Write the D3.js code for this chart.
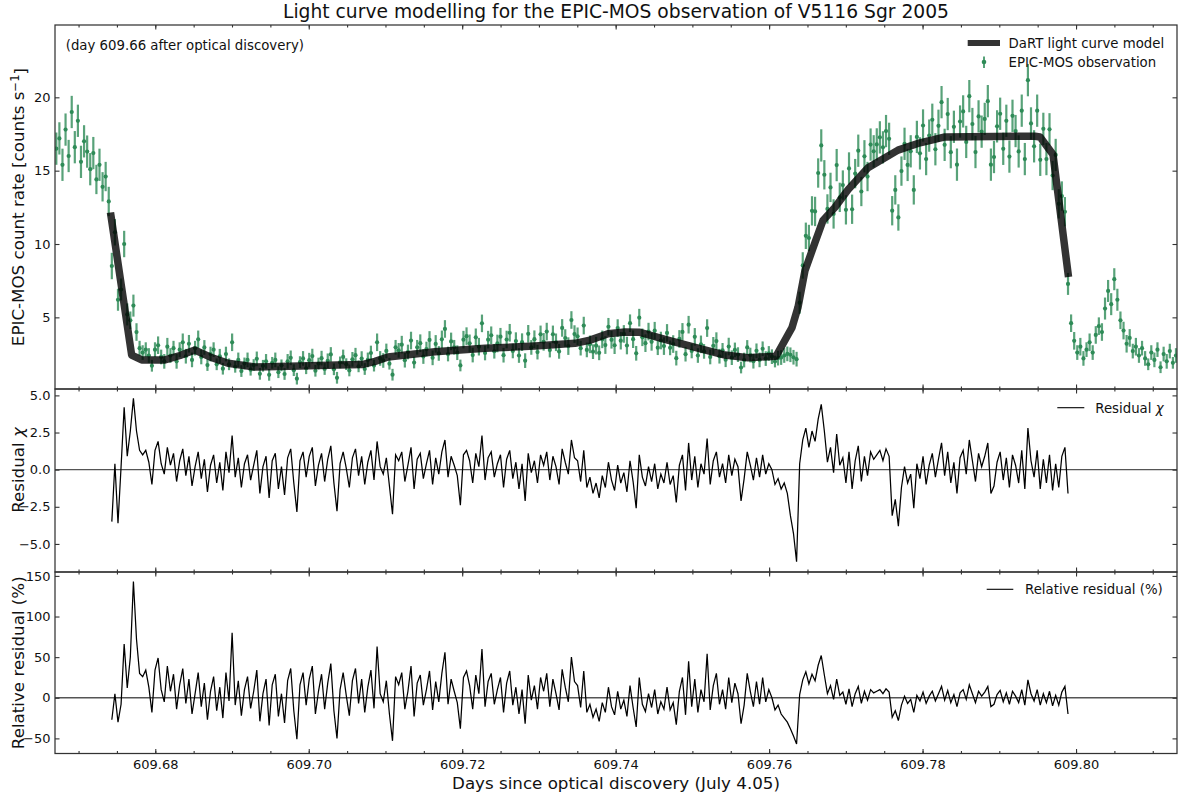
<!DOCTYPE html>
<html>
<head>
<meta charset="utf-8">
<script src="https://cdn.jsdelivr.net/npm/d3@7"></script>
<style>
  body { margin: 0; background: #fff; }
  svg { display: block; font-family: "DejaVu Sans", sans-serif; }
</style>
</head>
<body>
<svg id="chart" width="1182" height="798"></svg>
<script>
// ---- EPIC-MOS light curve (binned) ----
const binStart = 609.6671;   // centre of the first bin, days since optical discovery
const binWidth = 0.000402;   // bin width, days

// count rate per bin [counts/s]
const obsRate = [
  16.5,17.2,15.4,17.8,16.0,19.0,16.6,18.4,15.6,17.0,16.3,15.1,16.2,14.4,15.4,13.9,14.6,12.9,
  8.5,10.8,6.2,6.9,10.0,5.2,4.8,5.8,4.0,2.9,
  2.6,2.8,2.4,1.7,2.8,3.1,2.3,2.0,3.0,2.4,
  2.9,2.0,2.8,3.3,2.35,3.2,2.1,2.9,3.5,2.3,
  2.95,1.75,2.5,2.8,1.8,2.35,1.5,2.5,1.8,3.3,
  1.63,2.1,1.34,1.86,2.1,1.43,1.75,2.17,1.15,1.7,
  2.0,1.08,1.9,2.1,1.26,1.73,1.14,2.0,2.24,1.4,
  0.82,1.95,2.2,1.53,2.08,2.36,1.36,1.85,2.22,1.48,
  2.04,2.47,1.46,0.88,1.93,2.3,1.81,1.38,2.14,2.42,
  1.66,2.19,1.48,2.1,2.57,1.71,3.3,2.2,2.06,2.71,
  1.84,1.09,2.96,2.75,3.14,2.08,2.64,3.42,1.92,2.96,
  3.24,2.33,2.84,3.46,2.24,3.19,2.54,3.5,4.21,2.5,
  3.36,2.96,2.59,1.72,3.48,3.72,3.23,2.43,3.64,3.0,
  4.59,2.57,3.48,3.78,2.69,3.22,3.68,2.42,3.49,3.95,
  2.71,3.38,2.4,3.31,2.05,3.88,2.95,3.51,2.63,3.84,
  3.33,4.03,2.77,3.84,3.3,2.68,4.28,3.59,3.04,4.82,
  3.86,3.71,2.9,4.44,2.78,3.16,2.66,3.07,2.58,3.5,
  3.11,4.36,3.47,3.1,4.27,3.41,3.87,3.08,4.6,3.51,
  2.55,4.98,3.64,3.24,4.03,3.33,4.09,2.93,3.42,3.04,
  3.94,2.92,3.18,2.22,3.53,4.01,2.49,4.5,2.71,3.67,
  2.4,3.16,2.68,4.27,2.3,3.06,3.38,2.35,2.75,2.11,
  3.01,2.25,2.78,2.46,1.58,2.09,2.95,2.43,2.01,2.72,
  2.1,2.86,2.19,2.54,2.32,1.99,2.22,2.26,2.4,2.51,
  2.45,2.28,2.15,6.0,8.54,10.56,10.41,12.26,12.22,14.84,
  16.72,14.72,12.39,13.86,12.05,15.38,13.18,14.02,12.33,15.15,
  12.37,14.8,16.36,13.58,15.98,14.6,16.78,16.32,16.79,17.27,
  16.59,17.7,17.17,12.27,13.69,11.81,14.97,16.83,15.39,16.32,
  13.69,17.3,16.18,18.08,15.79,17.39,18.47,16.46,18.06,19.67,
  16.76,18.86,16.26,17.99,15.41,18.35,19.04,16.96,20.08,18.18,
  16.27,18.7,17.66,18.53,19.74,15.41,15.93,18.02,18.88,16.49,
  18.4,15.96,18.74,17.7,16.31,19.09,15.79,21.17,18.22,16.66,
  19.09,15.74,17.85,15.79,17.82,14.67,16.07,12.74,13.27,12.2,
  7.28,4.6,3.4,2.6,3.0,2.2,2.8,3.3,2.6,3.8,
  4.4,4.0,5.6,6.8,5.9,7.6,6.2,4.8,4.1,3.2,
  3.6,2.7,3.0,2.4,2.9,2.2,1.8,2.6,2.1,2.8,
  1.6,2.5,2.0,2.7,1.9,2.4
];

// 1-sigma error per bin [counts/s]
const obsError = [
  1.1,1.1,1.1,1.1,1.1,1.1,1.1,1.1,1.1,1.1,1.1,1.1,1.1,1.0,1.1,1.0,1.0,1.0,
  0.9,0.9,0.75,0.75,0.9,0.75,0.6,0.75,0.6,0.5,
  0.5,0.5,0.5,0.4,0.5,0.6,0.5,0.5,0.6,0.5,
  0.5,0.5,0.5,0.6,0.5,0.6,0.5,0.5,0.6,0.5,
  0.5,0.4,0.5,0.5,0.4,0.5,0.4,0.5,0.4,0.6,
  0.4,0.5,0.4,0.4,0.5,0.4,0.4,0.5,0.4,0.4,
  0.5,0.4,0.4,0.5,0.4,0.4,0.4,0.5,0.5,0.4,
  0.4,0.4,0.5,0.4,0.5,0.5,0.4,0.4,0.5,0.4,
  0.5,0.5,0.4,0.4,0.4,0.5,0.4,0.4,0.5,0.5,
  0.4,0.5,0.4,0.5,0.5,0.4,0.6,0.5,0.5,0.5,
  0.4,0.4,0.5,0.5,0.6,0.5,0.5,0.6,0.4,0.5,
  0.6,0.5,0.5,0.6,0.5,0.6,0.5,0.6,0.6,0.5,
  0.6,0.5,0.5,0.4,0.6,0.6,0.6,0.5,0.6,0.6,
  0.6,0.5,0.6,0.6,0.5,0.6,0.6,0.5,0.6,0.6,
  0.5,0.6,0.5,0.6,0.5,0.6,0.5,0.6,0.5,0.6,
  0.6,0.6,0.5,0.6,0.6,0.5,0.6,0.6,0.6,0.6,
  0.6,0.6,0.5,0.6,0.5,0.6,0.5,0.6,0.5,0.6,
  0.6,0.6,0.6,0.6,0.6,0.6,0.6,0.6,0.6,0.6,
  0.5,0.6,0.6,0.6,0.6,0.6,0.6,0.5,0.6,0.6,
  0.6,0.5,0.6,0.5,0.6,0.6,0.5,0.6,0.5,0.6,
  0.5,0.6,0.5,0.6,0.5,0.6,0.6,0.5,0.5,0.5,
  0.6,0.5,0.5,0.5,0.4,0.5,0.5,0.5,0.5,0.5,
  0.5,0.5,0.5,0.5,0.5,0.4,0.5,0.5,0.5,0.5,
  0.5,0.5,0.5,0.75,0.9,0.9,0.9,1.0,1.0,1.0,
  1.1,1.0,1.0,1.0,1.0,1.1,1.0,1.0,1.0,1.1,
  1.0,1.0,1.1,1.0,1.1,1.0,1.1,1.1,1.1,1.1,
  1.1,1.1,1.1,1.0,1.0,0.9,1.0,1.1,1.1,1.1,
  1.0,1.1,1.1,1.1,1.1,1.1,1.1,1.1,1.1,1.1,
  1.1,1.1,1.1,1.1,1.1,1.1,1.1,1.1,1.1,1.1,
  1.1,1.1,1.1,1.1,1.1,1.1,1.1,1.1,1.1,1.1,
  1.1,1.1,1.1,1.1,1.1,1.1,1.1,1.1,1.1,1.1,
  1.1,1.1,1.1,1.1,1.1,1.0,1.1,1.0,1.0,1.0,
  0.75,0.6,0.6,0.5,0.6,0.5,0.5,0.6,0.5,0.6,
  0.6,0.6,0.75,0.75,0.75,0.75,0.75,0.6,0.6,0.6,
  0.6,0.5,0.6,0.5,0.5,0.5,0.4,0.5,0.5,0.5,
  0.4,0.5,0.5,0.5,0.4,0.5
];

// ---- DaRT light curve model ----
const modelTime = [
  609.67423,609.67692,609.67823,609.68126,609.68322,609.68517,609.68713,609.68948,
  609.69299,609.69886,609.70381,609.70694,609.70864,609.71033,609.71646,609.72297,
  609.72949,609.73470,609.73666,609.73900,609.74122,609.74317,609.74643,609.75073,
  609.75425,609.75725,609.76090,609.76298,609.76377,609.76468,609.76598,609.76702,
  609.76859,609.77028,609.77289,609.77680,609.77967,609.78293,609.79466,609.79531,
  609.79700,609.79896
];
const modelRate = [
  11.9,2.43,2.1,2.1,2.4,2.77,2.3,1.87,
  1.62,1.68,1.75,1.78,2.0,2.3,2.66,2.89,
  3.05,3.23,3.45,3.88,4.0,3.98,3.5,2.9,
  2.43,2.25,2.35,4.3,5.7,8.2,10.1,11.6,
  12.5,13.7,15.2,16.4,16.9,17.3,17.35,17.3,
  16.1,8.0
];

// ---- fit residuals, one per bin, starting at bin index residualFirstBin ----
const residualFirstBin = 18;
const residualChi = [
  -3.5,0.4,-3.6,0.2,4.2,0.9,2.6,4.8,2.6,1.3,
  1.0,1.3,0.5,-1.0,1.3,1.9,0.4,-0.3,1.5,0.3,
  1.1,-0.8,0.6,1.4,-0.4,0.9,-1.1,0.2,1.2,-0.6,
  0.7,-1.5,0.3,1.0,-0.9,0.5,-1.4,1.2,-0.2,2.3,
  -0.5,0.8,-1.2,0.4,1.0,-0.7,0.3,1.3,-1.6,0.2,
  0.9,-1.9,0.6,1.1,-1.3,0.2,-1.7,0.8,1.4,-0.9,
  -2.85,0.6,1.2,-0.5,0.9,1.5,-1.1,0.3,1.1,-0.8,
  0.7,1.6,-0.9,-2.8,0.4,1.2,0.1,-1.2,0.8,1.4,
  -0.4,0.9,-1.0,0.5,1.3,-0.7,1.9,0.2,-0.3,0.8,
  -1.1,-3.0,1.0,0.6,1.2,-0.8,0.3,1.5,-1.3,0.7,
  1.1,-0.6,0.4,1.3,-1.0,0.8,-0.3,1.2,2.0,-0.5,
  0.9,0.3,-0.4,-2.4,1.0,1.3,0.6,-0.9,1.1,0.2,
  2.3,-0.7,0.8,1.2,-0.5,0.4,1.0,-1.2,0.7,1.3,
  -0.6,0.5,-1.3,0.4,-2.1,1.1,-0.2,0.6,-0.9,1.0,
  0.3,1.2,-0.7,0.9,0.2,-1.0,1.4,0.5,-0.3,2.0,
  0.8,0.6,-0.8,1.3,-1.2,-0.5,-1.6,-0.9,-1.9,-0.4,
  -1.2,0.5,-0.7,-1.4,0.3,-0.9,-0.2,-1.5,0.6,-0.8,
  -2.6,1.0,-0.5,-1.1,0.2,-0.8,0.4,-1.3,-0.3,-0.9,
  0.5,-1.0,-0.4,-2.2,0.3,1.0,-1.4,1.8,-0.7,0.9,
  -1.2,0.4,-0.3,2.1,-1.0,0.6,1.2,-0.5,0.4,-0.9,
  1.0,-0.4,0.7,0.2,-2.1,-0.6,1.2,0.3,-0.7,0.8,
  -0.5,1.0,-0.3,0.4,0.0,-1.0,-0.6,-1.3,-0.9,-1.6,
  -3.1,-4.3,-6.2,0.4,2.0,2.8,1.5,2.6,1.9,3.4,
  4.4,2.6,0.5,1.5,-0.2,2.4,0.3,0.8,-0.9,1.2,
  -1.3,0.6,1.6,-0.8,0.9,-0.4,1.2,0.7,1.0,1.3,
  0.6,1.4,0.9,-3.1,-2.0,-3.8,-1.2,0.2,-0.9,-0.3,
  -2.6,0.4,-0.6,0.9,-1.0,0.3,1.1,-0.5,0.7,1.8,
  -0.4,1.2,-0.9,0.5,-1.6,0.8,1.3,-0.3,2.0,0.6,
  -0.8,1.1,0.2,0.9,1.8,-1.6,-1.1,0.5,1.2,-0.7,
  0.8,-1.2,1.0,0.3,-0.9,1.3,-1.3,2.8,0.6,-0.5,
  1.3,-1.3,0.7,-0.9,1.0,-1.4,0.4,-1.2,0.9,1.5,-1.6
];
// relative residual [%]
const residualRelative = [
  -27,5,-30,-8,66,12,50,143,72,30,
  26,34,13,-18,34,49,10,-5,39,8,
  29,-14,16,36,-7,23,-20,5,31,-11,
  18,-27,8,26,-16,13,-25,31,-4,80,
  -9,21,-22,10,26,-13,8,34,-29,5,
  23,-34,16,29,-23,5,-31,21,36,-16,
  -51,16,31,-9,23,39,-20,8,29,-14,
  18,42,-16,-50,10,31,3,-22,21,36,
  -7,23,-18,13,34,-13,63,5,-5,21,
  -20,-53,26,16,31,-14,8,39,-23,18,
  28,-9,10,33,-15,20,-5,30,56,-8,
  23,8,-6,-38,25,33,15,-14,28,5,
  60,-11,20,30,-8,10,25,-18,18,33,
  -9,13,-20,10,-32,28,-3,15,-14,25,
  8,30,-11,23,5,-15,35,13,-5,50,
  20,15,-12,33,-18,-8,-24,-14,-29,-6,
  -18,13,-11,-21,8,-14,-3,-23,15,-12,
  -36,25,-8,-17,5,-12,10,-20,-5,-14,
  13,-15,-6,-33,8,25,-21,45,-11,23,
  -18,10,-5,54,-15,15,30,-8,10,-14,
  25,-6,18,5,-32,-9,30,8,-11,20,
  -8,25,-5,10,0,-15,-9,-20,-25,-30,
  -38,-47,-57,4,22,32,17,29,21,40,
  52,28,5,15,-2,23,3,7,-8,11,
  -11,5,14,-7,8,-3,10,6,8,10,
  5,11,7,-24,-16,-28,-9,2,-7,-2,
  -18,3,-4,7,-7,2,8,-4,5,14,
  -3,9,-6,4,-11,6,10,-2,16,5,
  -6,8,2,7,14,-11,-8,4,9,-5,
  6,-8,8,2,-6,10,-9,22,5,-4,
  10,-9,5,-6,8,-10,3,-9,7,14,-20
];

// ---- axis ticks ----
const xMajorTicks = [609.68, 609.70, 609.72, 609.74, 609.76, 609.78, 609.80];
const xMinorTicks = [609.670, 609.675, 609.680, 609.685, 609.690, 609.695, 609.700, 609.705,
  609.710, 609.715, 609.720, 609.725, 609.730, 609.735, 609.740, 609.745, 609.750, 609.755,
  609.760, 609.765, 609.770, 609.775, 609.780, 609.785, 609.790, 609.795, 609.800, 609.805, 609.810];
const rateTicks = [5, 10, 15, 20];
const chiTicks = [-5, -2.5, 0, 2.5, 5];
const relTicks = [-50, 0, 50, 100, 150];

// ---- layout ----
const svg = d3.select("#chart");
const L = 55, R = 1177;
const panels = {
  top: { y0: 25, y1: 389 },
  mid: { y0: 389, y1: 572 },
  bot: { y0: 572, y1: 753.5 }
};
const green = "#2e8b57";
const frameColor = "#333";

const x = d3.scaleLinear().domain([609.66693, 609.81316]).range([L, R]);
const yRate = d3.scaleLinear().domain([0.116, 24.93]).range([panels.top.y1, panels.top.y0]);
const yChi = d3.scaleLinear().domain([-6.89, 5.43]).range([panels.mid.y1, panels.mid.y0]);
const yRel = d3.scaleLinear().domain([-68.6, 154.8]).range([panels.bot.y1, panels.bot.y0]);

const binTime = i => binStart + i * binWidth;
const obs = obsRate.map((r, i) => ({ t: binTime(i), r, e: obsError[i] }));
const model = modelTime.map((t, i) => ({ t, r: modelRate[i] }));
const chi = residualChi.map((v, i) => ({ t: binTime(residualFirstBin + i), v }));
const rel = residualRelative.map((v, i) => ({ t: binTime(residualFirstBin + i), v }));

// clip each panel to its frame
const defs = svg.append("defs");
Object.entries(panels).forEach(([k, p]) => {
  defs.append("clipPath").attr("id", "clip-" + k)
    .append("rect").attr("x", L).attr("y", p.y0).attr("width", R - L).attr("height", p.y1 - p.y0);
});

// ---- top panel: observation + model ----
const gTop = svg.append("g").attr("clip-path", "url(#clip-top)");
gTop.append("g").selectAll("line").data(obs).join("line")
  .attr("x1", d => x(d.t)).attr("x2", d => x(d.t))
  .attr("y1", d => yRate(d.r - d.e)).attr("y2", d => yRate(d.r + d.e))
  .attr("stroke", green).attr("stroke-opacity", 0.8).attr("stroke-width", 2.2);
gTop.append("g").selectAll("circle").data(obs).join("circle")
  .attr("cx", d => x(d.t)).attr("cy", d => yRate(d.r)).attr("r", 2.1)
  .attr("fill", green);
gTop.append("path").datum(model)
  .attr("d", d3.line().x(d => x(d.t)).y(d => yRate(d.r)))
  .attr("fill", "none").attr("stroke", "#000").attr("stroke-opacity", 0.8)
  .attr("stroke-width", 7.5).attr("stroke-linejoin", "round").attr("stroke-linecap", "square");

// ---- middle panel: chi residual ----
const gMid = svg.append("g").attr("clip-path", "url(#clip-mid)");
gMid.append("line").attr("x1", L).attr("x2", R).attr("y1", yChi(0)).attr("y2", yChi(0))
  .attr("stroke", "#555").attr("stroke-width", 1.4);
gMid.append("path").datum(chi)
  .attr("d", d3.line().x(d => x(d.t)).y(d => yChi(d.v)))
  .attr("fill", "none").attr("stroke", "#000").attr("stroke-width", 1.25);

// ---- bottom panel: relative residual ----
const gBot = svg.append("g").attr("clip-path", "url(#clip-bot)");
gBot.append("line").attr("x1", L).attr("x2", R).attr("y1", yRel(0)).attr("y2", yRel(0))
  .attr("stroke", "#555").attr("stroke-width", 1.4);
gBot.append("path").datum(rel)
  .attr("d", d3.line().x(d => x(d.t)).y(d => yRel(d.v)))
  .attr("fill", "none").attr("stroke", "#000").attr("stroke-width", 1.25);

// ---- axes: inward ticks on all four sides ----
function styleAxis(g) {
  g.select(".domain").remove();
  g.selectAll(".tick line").attr("stroke", frameColor).attr("stroke-width", 1.1);
  g.selectAll(".tick text").attr("fill", "#111").style("font-size", "13px")
    .style("font-family", "'DejaVu Sans', sans-serif");
}
function panelAxes(p, yScale, yTicks, yFormat, withXLabels) {
  // bottom edge
  svg.append("g").attr("transform", `translate(0,${p.y1})`)
    .call(d3.axisBottom(x).tickValues(xMajorTicks).tickSize(-4.5).tickPadding(6.3)
      .tickFormat(withXLabels ? d3.format(".2f") : ""))
    .call(styleAxis);
  svg.append("g").attr("transform", `translate(0,${p.y1})`)
    .call(d3.axisBottom(x).tickValues(xMinorTicks).tickSize(-2.5).tickFormat(""))
    .call(styleAxis);
  // top edge
  svg.append("g").attr("transform", `translate(0,${p.y0})`)
    .call(d3.axisTop(x).tickValues(xMajorTicks).tickSize(-4.5).tickFormat(""))
    .call(styleAxis);
  svg.append("g").attr("transform", `translate(0,${p.y0})`)
    .call(d3.axisTop(x).tickValues(xMinorTicks).tickSize(-2.5).tickFormat(""))
    .call(styleAxis);
  // left and right edges
  svg.append("g").attr("transform", `translate(${L},0)`)
    .call(d3.axisLeft(yScale).tickValues(yTicks).tickSize(-4.5).tickPadding(4.5).tickFormat(yFormat))
    .call(styleAxis);
  svg.append("g").attr("transform", `translate(${R},0)`)
    .call(d3.axisRight(yScale).tickValues(yTicks).tickSize(-4.5).tickFormat(""))
    .call(styleAxis);
  // frame
  svg.append("rect").attr("x", L).attr("y", p.y0).attr("width", R - L).attr("height", p.y1 - p.y0)
    .attr("fill", "none").attr("stroke", frameColor).attr("stroke-width", 1.25);
}
panelAxes(panels.top, yRate, rateTicks, d3.format("d"), false);
panelAxes(panels.mid, yChi, chiTicks, d3.format(".1f"), false);
panelAxes(panels.bot, yRel, relTicks, d3.format("d"), true);

// ---- text ----
svg.append("text").attr("x", (L + R) / 2).attr("y", 18).attr("text-anchor", "middle")
  .style("font-size", "18.7px").attr("fill", "#111")
  .text("Light curve modelling for the EPIC-MOS observation of V5116 Sgr 2005");

svg.append("text").attr("x", 65.7).attr("y", 49.5)
  .style("font-size", "13.3px").attr("fill", "#111")
  .text("(day 609.66 after optical discovery)");

svg.append("text").attr("x", (L + R) / 2).attr("y", 789).attr("text-anchor", "middle")
  .style("font-size", "16.7px").attr("fill", "#111")
  .text("Days since optical discovery (July 4.05)");

const yLab1 = svg.append("text").attr("text-anchor", "middle")
  .attr("transform", `translate(24,${(panels.top.y0 + panels.top.y1) / 2}) rotate(-90)`)
  .style("font-size", "16.7px").attr("fill", "#111");
yLab1.append("tspan").text("EPIC-MOS count rate [counts s");
yLab1.append("tspan").attr("dy", "-0.45em").style("font-size", "11.7px").text("−1");
yLab1.append("tspan").attr("dy", "0.45em").text("]");

const yLab2 = svg.append("text").attr("text-anchor", "middle")
  .attr("transform", `translate(24,470) rotate(-90)`)
  .style("font-size", "16.7px").attr("fill", "#111");
yLab2.append("tspan").text("Residual ");
yLab2.append("tspan").style("font-style", "italic").text("χ");

svg.append("text").attr("text-anchor", "middle")
  .attr("transform", `translate(24,${(panels.bot.y0 + panels.bot.y1) / 2}) rotate(-90)`)
  .style("font-size", "16.7px").attr("fill", "#111")
  .text("Relative residual (%)");

// ---- legends ----
const legTop = svg.append("g");
legTop.append("line").attr("x1", 967.7).attr("x2", 1000).attr("y1", 43).attr("y2", 43)
  .attr("stroke", "#000").attr("stroke-opacity", 0.8).attr("stroke-width", 6);
legTop.append("text").attr("x", 1008.5).attr("y", 48).style("font-size", "13.3px").attr("fill", "#111")
  .text("DaRT light curve model");
legTop.append("line").attr("x1", 984).attr("x2", 984).attr("y1", 56.5).attr("y2", 68)
  .attr("stroke", green).attr("stroke-opacity", 0.8).attr("stroke-width", 2);
legTop.append("circle").attr("cx", 984).attr("cy", 62).attr("r", 2.3).attr("fill", green);
legTop.append("text").attr("x", 1008.5).attr("y", 67).style("font-size", "13.3px").attr("fill", "#111")
  .text("EPIC-MOS observation");

const legMid = svg.append("g");
legMid.append("line").attr("x1", 1057.3).attr("x2", 1084.3).attr("y1", 407.7).attr("y2", 407.7)
  .attr("stroke", "#000").attr("stroke-width", 1.1);
const legMidText = legMid.append("text").attr("x", 1095.3).attr("y", 412.5)
  .style("font-size", "13.3px").attr("fill", "#111");
legMidText.append("tspan").text("Residual ");
legMidText.append("tspan").style("font-style", "italic").text("χ");

const legBot = svg.append("g");
legBot.append("line").attr("x1", 986.7).attr("x2", 1013.3).attr("y1", 589.3).attr("y2", 589.3)
  .attr("stroke", "#000").attr("stroke-width", 1.1);
legBot.append("text").attr("x", 1025).attr("y", 594).style("font-size", "13.3px").attr("fill", "#111")
  .text("Relative residual (%)");
</script>
</body>
</html>
